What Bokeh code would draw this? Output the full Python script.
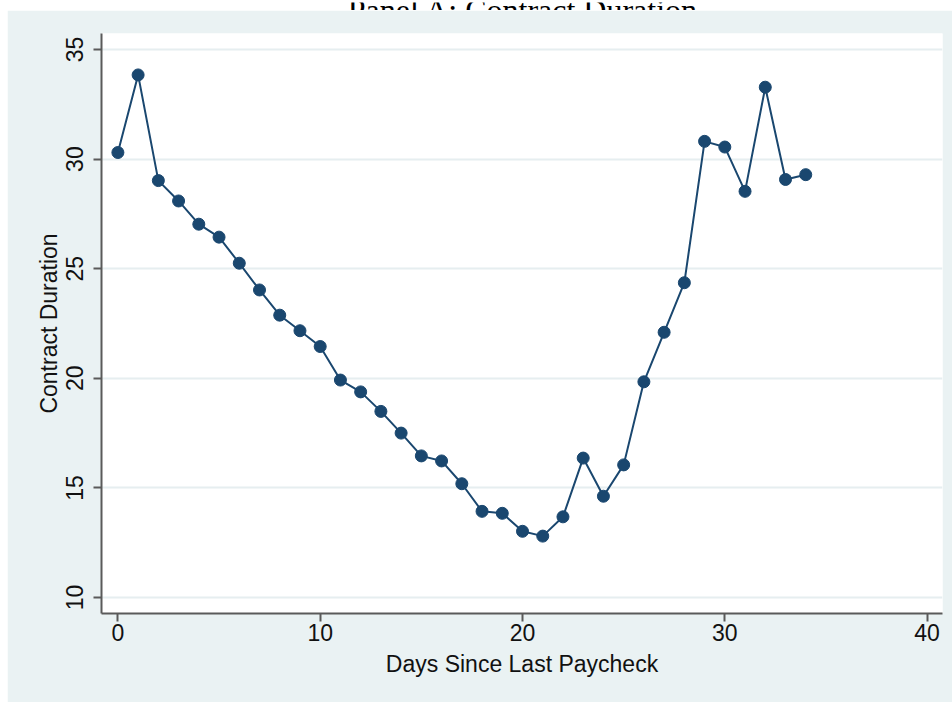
from bokeh.plotting import figure
from bokeh.models import Range1d, Label, FixedTicker
from bokeh.layouts import column
from bokeh.embed import file_html
from bokeh.resources import INLINE

# ---- data ----
days = list(range(35))
duration = [30.30, 33.84, 29.02, 28.09, 27.03, 26.44, 25.25, 24.03, 22.88, 22.17,
            21.45, 19.92, 19.38, 18.49, 17.50, 16.46, 16.23, 15.19, 13.93, 13.84,
            13.02, 12.80, 13.68, 16.36, 14.62, 16.05, 19.84, 22.10, 24.36, 30.81,
            30.55, 28.53, 33.28, 29.07, 29.29]
x_ticks = [0, 10, 20, 30, 40]
y_ticks = [10, 15, 20, 25, 30, 35]
title_text = "Panel A: Contract Duration"
x_label = "Days Since Last Paycheck"
y_label = "Contract Duration"

BG = "#EAF2F3"
NAVY = "#1A476F"
AXC = "#5A5A5A"
FONT = "Liberation Sans"
W = 945

# ---- cut-off title strip ----
t = figure(width=W, height=10, output_backend="svg", toolbar_location=None,
           x_range=Range1d(0, W), y_range=Range1d(0, 10),
           min_border=0, outline_line_color=None,
           background_fill_color="white", border_fill_color="white")
t.axis.visible = False
t.grid.visible = False
t.add_layout(Label(x=474, y=3, text=title_text, text_align="center",
                   text_baseline="alphabetic", text_font="Liberation Serif",
                   text_font_size="32px", text_color="#000000"))

# ---- main chart ----
p = figure(width=W, height=692, output_backend="svg", toolbar_location=None,
           x_range=Range1d(-0.81, 40.76), y_range=Range1d(9.27, 35.73),
           background_fill_color="white", border_fill_color=BG,
           outline_line_color=None,
           min_border_left=94, min_border_right=10,
           min_border_top=23, min_border_bottom=89)

p.line(days, duration, line_color=NAVY, line_width=2)
p.scatter(days, duration, marker="circle", size=12,
          fill_color=NAVY, line_color=NAVY)

p.xgrid.visible = False
p.ygrid.grid_line_color = "#E6EEF0"
p.ygrid.grid_line_width = 2

p.xaxis.ticker = FixedTicker(ticks=x_ticks)
p.yaxis.ticker = FixedTicker(ticks=y_ticks)
p.xaxis.axis_label = x_label
p.yaxis.axis_label = y_label

for ax in (p.xaxis, p.yaxis):
    ax.axis_line_color = AXC
    ax.axis_line_width = 2
    ax.major_tick_line_color = AXC
    ax.major_tick_line_width = 2
    ax.major_tick_out = 8
    ax.major_tick_in = 0
    ax.minor_tick_line_color = None
    ax.major_label_text_font = FONT
    ax.major_label_text_font_size = "23px"
    ax.major_label_text_color = "#111111"
    ax.axis_label_text_font = FONT
    ax.axis_label_text_font_size = "23px"
    ax.axis_label_text_font_style = "normal"
    ax.axis_label_text_color = "#111111"

p.yaxis.major_label_orientation = "vertical"
p.yaxis.major_label_standoff = 10
p.yaxis.axis_label_standoff = 2
p.xaxis.major_label_standoff = 2
p.xaxis.axis_label_standoff = 7

layout = column(t, p, spacing=0, styles={"margin-left": "7px"})

open("out.html", "w").write(file_html(layout, INLINE))
